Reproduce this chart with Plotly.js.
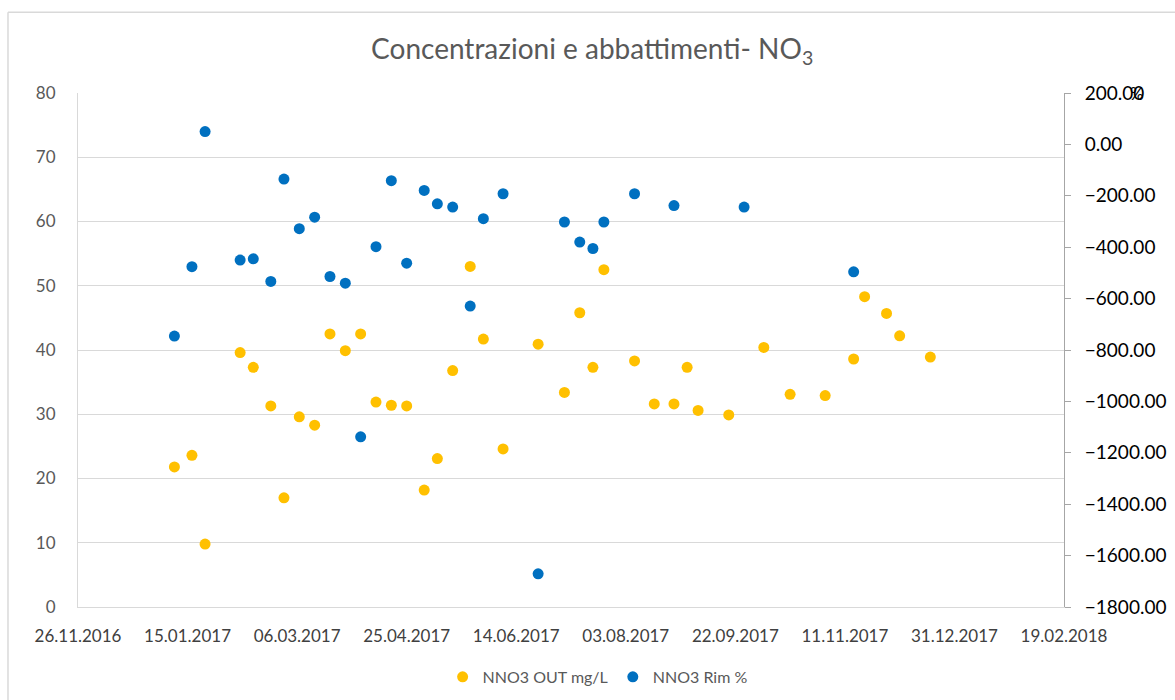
<!DOCTYPE html>
<html>
<head>
<meta charset="utf-8">
<script src="https://cdn.plot.ly/plotly-3.0.1.min.js"></script>
<style>html,body{margin:0;padding:0;background:#fff;}#chart{width:1175px;height:700px;}</style>
</head>
<body>
<div id="chart"></div>
<script>
// Series 1: NNO3 OUT mg/L (left axis)
const outDates = ['2017-01-09','2017-01-17','2017-01-23','2017-02-08','2017-02-14','2017-02-22','2017-02-28','2017-03-07','2017-03-14','2017-03-21','2017-03-28','2017-04-04','2017-04-11','2017-04-18','2017-04-25','2017-05-03','2017-05-09','2017-05-16','2017-05-24','2017-05-30','2017-06-08','2017-06-24','2017-07-06','2017-07-13','2017-07-19','2017-07-24','2017-08-07','2017-08-16','2017-08-25','2017-08-31','2017-09-05','2017-09-19','2017-10-05','2017-10-17','2017-11-02','2017-11-15','2017-11-20','2017-11-30','2017-12-06','2017-12-20'];
const outValues = [21.8,23.6,9.8,39.6,37.3,31.3,17.0,29.6,28.3,42.5,39.9,42.5,31.9,31.4,31.3,18.2,23.1,36.8,53.0,41.7,24.6,40.9,33.4,45.8,37.3,52.5,38.3,31.6,31.6,37.3,30.6,29.9,40.4,33.1,32.9,38.6,48.3,45.7,42.2,38.9];

// Series 2: NNO3 Rim % (right axis)
const rimDates = ['2017-01-09','2017-01-17','2017-01-23','2017-02-08','2017-02-14','2017-02-22','2017-02-28','2017-03-07','2017-03-14','2017-03-21','2017-03-28','2017-04-04','2017-04-11','2017-04-18','2017-04-25','2017-05-03','2017-05-09','2017-05-16','2017-05-24','2017-05-30','2017-06-08','2017-06-24','2017-07-06','2017-07-13','2017-07-19','2017-07-24','2017-08-07','2017-08-25','2017-09-26','2017-11-15'];
const rimValues = [-746,-476,50,-450,-445,-533,-135,-328,-283,-514,-540,-1138,-398,-141,-462,-179,-231,-244,-629,-289,-192,-1671,-302,-380,-405,-302,-192,-238,-244,-496];

const seriesNames = ['NNO3 OUT mg/L','NNO3 Rim %'];
const titleText = 'Concentrazioni e abbattimenti- NO<sub>3</sub>';
const xStart = '2016-11-26', xEnd = '2018-02-19';

const FONT = 'Lato, "Open Sans", sans-serif';

const traces = [
  {x: outDates, y: outValues, name: seriesNames[0], type: 'scatter', mode: 'markers',
   marker: {color: '#FFC000', size: 11}, yaxis: 'y'},
  {x: rimDates, y: rimValues, name: seriesNames[1], type: 'scatter', mode: 'markers',
   marker: {color: '#0070C0', size: 11}, yaxis: 'y2'}
];

const layout = {
  width: 1175, height: 700,
  margin: {l: 78, r: 111, t: 93, b: 93, autoexpand: false},
  paper_bgcolor: '#fff', plot_bgcolor: '#fff',
  font: {family: FONT, color: '#595959'},
  title: {text: titleText, font: {family: FONT, size: 28, color: '#595959'}, x: 0.504, xanchor: 'center', y: 0.93, yanchor: 'middle'},
  showlegend: true,
  legend: {orientation: 'h', x: 0.527, xanchor: 'center', y: -0.136, yanchor: 'middle',
           font: {family: FONT, size: 16, color: '#595959'}, itemwidth: 30, tracegroupgap: 0},
  xaxis: {type: 'date', range: [xStart, xEnd], tick0: xStart, dtick: 50*86400000,
          tickformat: '%d.%m.%Y', showgrid: false, zeroline: false, automargin: false,
          showline: true, linecolor: '#D9D9D9', linewidth: 1, ticks: '',
          tickfont: {family: FONT, size: 17, color: '#404040'}, ticklabelstandoff: 14},
  yaxis: {range: [0, 80], dtick: 10, showgrid: true, gridcolor: '#D9D9D9', gridwidth: 1,
          zeroline: false, showline: true, linecolor: '#D9D9D9', ticks: '', automargin: false,
          tickfont: {family: FONT, size: 17, color: '#595959'}, ticklabelstandoff: 18},
  yaxis2: {overlaying: 'y', side: 'right', range: [-1800, 200], dtick: 200, tickformat: '.2f',
           showgrid: false, zeroline: false, showline: true, linecolor: '#A6A6A6', linewidth: 1,
           ticks: 'outside', ticklen: 6, tickcolor: '#A6A6A6', automargin: false,
           tickfont: {family: FONT, size: 19, color: '#000'}, ticklabelstandoff: 10},
  annotations: [
    {text: '%', xref: 'paper', yref: 'paper', x: 1.074, y: 1.0, xanchor: 'center', yanchor: 'middle',
     showarrow: false, font: {family: FONT, size: 17, color: '#000'}}
  ],
  shapes: [
    {type: 'line', xref: 'paper', yref: 'paper', x0: -0.071, x1: -0.071, y0: -0.2, y1: 1.157,
     line: {color: '#D9D9D9', width: 1.5}},
    {type: 'line', xref: 'paper', yref: 'paper', x0: -0.071, x1: 1.2, y0: 1.157, y1: 1.157,
     line: {color: '#D9D9D9', width: 1.5}}
  ]
};

Plotly.newPlot('chart', traces, layout, {displayModeBar: false, staticPlot: true});
</script>
</body>
</html>
